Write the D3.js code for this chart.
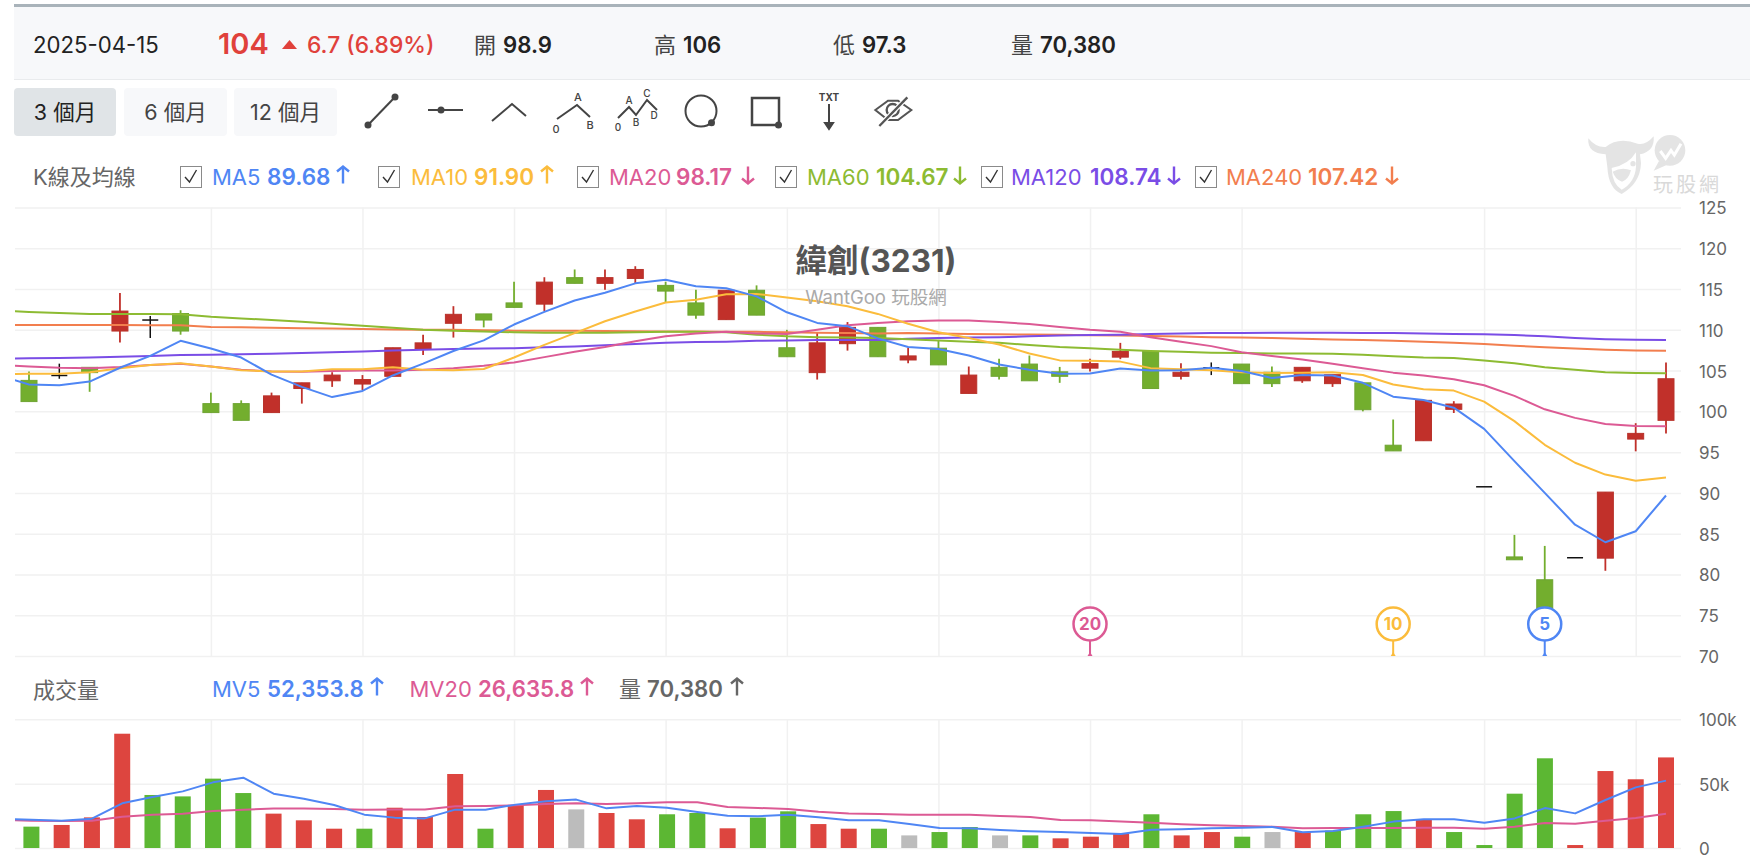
<!DOCTYPE html>
<html lang="zh-Hant">
<head>
<meta charset="utf-8">
<title>緯創(3231)</title>
<script src="https://cdn.jsdelivr.net/npm/d3@7/dist/d3.min.js"></script>
<style>
  html, body { margin: 0; padding: 0; background: #fff; overflow: hidden; }
  svg { display: block; }
  text { font-family: Inter, "Noto Sans CJK TC", sans-serif; }
  .tick text { font-family: Inter, sans-serif; }
</style>
</head>
<body>
<svg id="chart" width="1750" height="860"></svg>
<script>
// Daily quotes, oldest first
const opens = [103.8,104.4,105.4,109.85,111.2,112.0,100.95,100.95,99.85,102.8,103.75,103.35,104.3,107.65,110.8,111.95,113.3,113.15,116.4,115.7,116.3,115.45,113.3,111.25,114.85,107.8,104.75,108.3,110.3,106.3,107.75,102.2,105.4,105.8,104.85,105.3,106.65,107.35,104.3,105.35,105.8,104.8,103.75,103.4,103.5,95.85,96.4,100.25,90.75,82.15,79.35,82.05,82.0,96.6,98.9];
const highs = [104.9,105.85,105.4,114.5,111.7,112.4,102.3,101.35,102.3,103.5,104.8,104.45,107.8,109.4,112.9,111.95,115.9,116.45,117.4,117.4,117.8,115.9,114.9,114.85,115.45,110.0,109.7,110.95,110.3,107.8,108.7,105.5,106.45,106.85,105.45,106.45,108.4,107.35,105.9,106.0,105.8,105.5,105.4,104.5,103.5,99.0,101.35,101.25,90.75,84.85,83.5,82.05,90.1,98.55,106];
const lows = [101.2,104.0,102.4,108.45,109.0,109.4,99.85,98.9,99.85,100.95,103.0,102.6,104.3,106.9,109.05,110.3,112.75,112.3,115.7,114.9,115.65,113.35,111.35,111.25,111.8,106.7,103.9,107.45,106.7,105.9,105.7,102.2,103.9,103.75,103.5,104.9,106.4,102.8,103.9,104.45,103.4,103.0,103.5,103.0,100.0,95.15,96.4,99.8,90.75,81.8,75.7,82.05,80.45,95.1,97.3];
const closes = [101.2,104.4,104.75,112.3,111.2,109.85,99.85,98.9,101.9,103.5,104.45,103.9,107.8,108.4,111.9,111.2,112.75,115.85,115.7,116.4,117.4,114.75,111.8,114.85,111.8,106.7,108.4,110.3,106.7,106.8,105.7,104.45,104.3,103.75,104.3,105.85,107.35,102.8,104.8,105.35,103.4,103.4,105.4,104.5,100.2,95.15,101.35,100.9,90.75,81.8,75.7,82.05,90.1,97.3,104];

// Averages begin one session before the first visible candle and run off the left edge
const ma5 = [104.4,103.3,103.2,103.65,105.35,106.8,108.65,107.7,106.6,104.5,103.0,101.75,102.5,104.4,105.85,107.4,108.7,110.65,112.2,113.6,114.55,115.7,116.15,115.35,115.1,114.1,112.15,110.85,110.45,108.95,107.9,107.65,106.85,105.75,105.1,104.6,104.65,105.25,105.0,105.05,105.35,104.95,104.1,104.45,104.4,103.5,101.8,101.4,100.45,97.85,93.9,90.0,86.1,83.95,85.3,89.68];
const ma10 = [104.55,104.6,104.6,104.8,105.3,105.7,105.9,105.5,105.05,104.9,104.9,105.15,105.15,105.4,105.1,105.05,105.2,106.6,108.15,109.6,111.05,112.25,113.35,113.7,114.35,114.4,113.95,113.5,112.9,111.95,110.75,109.7,109.0,108.2,107.1,106.25,106.2,106.1,105.3,105.15,105.05,104.8,104.7,104.75,104.8,104.45,103.3,102.7,102.55,101.2,98.8,95.9,93.7,92.25,91.5,91.9];
const ma20 = [105.7,105.5,105.35,105.3,105.45,105.7,105.85,105.5,105.1,104.9,104.85,104.95,105.0,105.0,105.1,105.3,105.6,106.0,106.65,107.3,107.9,108.6,109.2,109.55,109.75,109.55,109.5,110.0,110.55,110.85,111.05,111.15,111.15,110.95,110.7,110.35,110.0,109.75,109.1,108.55,108.0,107.25,106.8,106.35,105.85,105.3,104.75,104.4,103.95,103.2,101.9,100.25,99.2,98.45,98.2,98.17];
const ma60 = [112.35,112.2,112.05,111.95,111.95,111.95,111.9,111.6,111.4,111.2,111.0,110.75,110.5,110.25,110.0,109.9,109.8,109.7,109.65,109.65,109.65,109.7,109.75,109.75,109.7,109.4,109.2,109.1,109.05,109.0,108.85,108.7,108.55,108.4,108.15,107.9,107.75,107.55,107.4,107.3,107.2,107.15,107.1,107.1,107.05,106.95,106.75,106.6,106.55,106.25,105.9,105.4,105.1,104.8,104.7,104.67];
const ma120 = [106.45,106.5,106.55,106.6,106.7,106.8,106.9,106.95,107.0,107.05,107.15,107.25,107.35,107.45,107.55,107.65,107.7,107.75,107.85,107.95,108.1,108.25,108.4,108.5,108.55,108.65,108.7,108.75,108.75,108.75,108.9,109.0,109.05,109.1,109.2,109.3,109.35,109.4,109.5,109.55,109.6,109.6,109.65,109.65,109.65,109.6,109.6,109.55,109.5,109.45,109.35,109.2,109.0,108.85,108.78,108.74];
const ma240 = [110.6,110.6,110.6,110.6,110.58,110.56,110.55,110.35,110.3,110.25,110.2,110.15,110.1,110.05,110.0,110.0,109.95,109.9,109.9,109.88,109.85,109.82,109.8,109.78,109.76,109.75,109.7,109.65,109.6,109.55,109.6,109.55,109.5,109.45,109.42,109.38,109.34,109.3,109.25,109.18,109.1,109.05,109.0,108.9,108.8,108.75,108.65,108.55,108.4,108.25,108.05,107.85,107.7,107.55,107.47,107.42];

// Traded volume and its averages, same session order
const volumes = [16600,17900,23800,88800,41200,40100,53900,42700,26700,21500,15000,15000,31300,24100,57500,15000,33200,45100,30000,27200,22300,26200,27200,15300,23600,28500,18600,15000,15000,9800,12400,16300,9800,9800,7500,8800,11100,26200,9800,12400,8800,12400,12400,13500,26200,28700,21800,12400,2300,42200,69700,2300,59800,53400,70380];
const volumeMoves = ["d","u","u","u","d","d","d","d","u","u","u","d","u","u","u","d","u","u","f","u","u","d","d","u","d","d","u","u","d","f","d","d","f","d","u","u","u","d","u","u","d","f","u","d","d","d","u","d","d","d","d","u","u","u","u"];
const mv5 = [22700,22000,21200,22800,34700,39600,44000,51000,54600,42200,38300,33400,25900,23600,23000,29800,29800,33700,36300,37600,30800,32600,31300,28000,25100,24600,25900,23800,21500,21500,18600,15500,15300,14000,13000,12400,11700,10900,14200,14500,15300,15800,16300,12200,13200,16600,20500,22300,22300,19700,23000,31000,26900,37300,47100,52353.8];
const mv20 = [21700,21200,21000,21200,24300,25900,26700,28700,29800,30600,30600,30300,29800,30000,30000,32400,32600,33200,34200,34700,34200,34700,35500,35500,31900,31100,30300,28200,26900,26400,25900,25900,25900,24900,24100,21800,21500,20500,19700,18400,17600,17100,16600,15300,15500,15500,15500,15800,15800,15000,16600,19400,18900,21200,23300,26635.8];

// Axis ticks and session gridlines
const priceTicks = [70,75,80,85,90,95,100,105,110,115,120,125];
const volumeTicks = [0,50000,100000];
const gridSessions = [6,11,16,21,25,30,35,40,48,53];

// Legend rows
const maNames = ["MA5","MA10","MA20","MA60","MA120","MA240"];
const maLabels = ["89.68","91.90","98.17","104.67","108.74","107.42"];
const maTrends = [1,1,-1,-1,-1,-1];
const mvNames = ["MV5","MV20","量"];
const mvLabels = ["52,353.8","26,635.8","70,380"];
const mvTrends = [1,1,1];

// Averages that the latest price crossed, with the session of each crossing
const crossPeriods = [20,10,5];
const crossSessions = [35,45,50];

const ink = {
  ma: ["#4f86f4","#fbbc3c","#dc5a94","#8dbb32","#7a4de6","#f27e4e"],
  up: "#c1302a", upEdge: "#b8322b", down: "#73ae2e", downEdge: "#6fa433", flat: "#111",
  volUp: "#dd453f", volDown: "#5cb733", volFlat: "#bcbcbc",
  grid: "#f1f1f1", axis: "#666", header: "#f7f8fa"
};

const svg = d3.select("#chart");

const x = d3.scaleLinear().domain([0, 54]).range([29, 1666]);
const xVol = d3.scaleLinear().domain([0, 54]).range([31.4, 1666]);
const y = d3.scaleLinear().domain([70, 125]).range([656, 207.5]);
const yVol = d3.scaleLinear().domain([0, 100000]).range([848, 719.3]);

// Plain text helper; y is the vertical centre of the line
function label(parent, px, py, str, o = {}) {
  return parent.append("text")
    .attr("x", px).attr("y", py).attr("dy", "0.36em")
    .attr("font-size", o.size || 21)
    .attr("font-weight", o.weight || 400)
    .attr("fill", o.fill || "#333")
    .attr("text-anchor", o.anchor || "start")
    .text(str);
}

// Little trend arrow used in the legends
function trendArrow(parent, cx, cy, dir, color) {
  const t = -dir * 8.5, h = -dir * 5;
  parent.append("path")
    .attr("d", `M${cx},${cy - t}L${cx},${cy + t}M${cx - 6},${cy + t - h}L${cx},${cy + t}L${cx + 6},${cy + t - h}`)
    .attr("fill", "none").attr("stroke", color).attr("stroke-width", 2.4);
}

/* ---------- header strip ---------- */
svg.append("rect").attr("x", 14).attr("y", 7).attr("width", 1736).attr("height", 72).attr("fill", ink.header);
svg.append("rect").attr("x", 14).attr("y", 4).attr("width", 1736).attr("height", 3).attr("fill", "#a9b3ba");
svg.append("rect").attr("x", 14).attr("y", 79).attr("width", 1736).attr("height", 1).attr("fill", "#e9ebed");

const head = svg.append("g");
label(head, 33, 45, "2025-04-15", { size: 22.2, fill: "#222" });
label(head, 218, 44, "104", { size: 29, weight: 600, fill: "#e0413b" });
head.append("path").attr("d", "M282,49L289.5,40L297,49Z").attr("fill", "#e0413b");
label(head, 307, 45, "6.7 (6.89%)", { size: 22.8, weight: 500, fill: "#e0413b" });
[["開", "98.9", 474], ["高", "106", 654], ["低", "97.3", 833], ["量", "70,380", 1011]].forEach(([k, v, px]) => {
  label(head, px, 45, k, { size: 22, fill: "#444" });
  label(head, px + 29, 45, v, { size: 22.2, weight: 600, fill: "#222" });
});

/* ---------- range buttons ---------- */
const ranges = [["3 個月", 14, 102, true], ["6 個月", 124, 103, false], ["12 個月", 234, 103, false]];
ranges.forEach(([t, px, w, on]) => {
  svg.append("rect").attr("x", px).attr("y", 88).attr("width", w).attr("height", 48).attr("rx", 4)
    .attr("fill", on ? "#e0e4e7" : ink.header);
  label(svg, px + w / 2, 112, t, { size: 21.5, anchor: "middle", fill: on ? "#222" : "#444" });
});

/* ---------- drawing tools ---------- */
const tools = svg.append("g").attr("fill", "none").attr("stroke", "#444").attr("stroke-width", 2);
const dot = (cx, cy, r = 3.5) => tools.append("circle").attr("cx", cx).attr("cy", cy).attr("r", r).attr("fill", "#444").attr("stroke", "none");
const small = (px, py, t, s = 11) => label(svg, px, py, t, { size: s, anchor: "middle", fill: "#444", weight: 500 });

tools.append("path").attr("d", "M368,125L395,97"); dot(368, 125); dot(395, 97);
tools.append("path").attr("d", "M428,110L463,110"); dot(441, 110);
tools.append("path").attr("d", "M492,121L512,104L526,116");
tools.append("path").attr("d", "M557,119L577,105L590,117");
small(556, 129, "0"); small(578, 97, "A"); small(590, 125, "B");
tools.append("path").attr("d", "M618,118L629,107L636,115L647,100L657,110");
small(618, 127, "0", 10); small(629, 100, "A", 10); small(636, 122, "B", 10); small(647, 93, "C", 10); small(654, 115, "D", 10);
tools.append("circle").attr("cx", 701).attr("cy", 111).attr("r", 15.5); dot(711.5, 122.7);
tools.append("rect").attr("x", 752).attr("y", 98).attr("width", 27).attr("height", 27).attr("stroke-width", 2.5); dot(778.5, 125);
small(829, 97, "TXT", 10).attr("font-weight", 700);
tools.append("path").attr("d", "M829,104L829,127");
tools.append("path").attr("d", "M825,123L829,129L833,123Z").attr("fill", "#444");

// Struck-through eye
const eye = svg.append("g").attr("transform", "translate(860,85) scale(0.3333)")
  .attr("fill", "none").attr("stroke", "#555");
eye.append("path").attr("d", "M46,75L84,47L114,47L154,75L114,105L84,105Z").attr("stroke-width", 6);
eye.append("circle").attr("cx", 98).attr("cy", 75).attr("r", 18).attr("stroke-width", 7);
eye.append("path").attr("d", "M58,123L142,37").attr("stroke", "#fff").attr("stroke-width", 14);
eye.append("path").attr("d", "M58,123L142,37").attr("stroke-width", 7);

/* ---------- brand mark ---------- */
const mark = svg.append("g").attr("transform", "translate(1575,125) scale(0.3333)").attr("fill", "#e4e4e4");
mark.append("path").attr("d", "M40,40Q62,68 92,66Q130,35 188,56Q212,62 236,34Q240,80 195,88L198,115Q196,175 140,207Q100,190 97,125L92,88Q36,85 40,40Z");
mark.append("path").attr("d", "M112,128Q160,120 183,82L183,125Q180,172 140,194Q112,178 110,130Z").attr("fill", "#fff");
mark.append("path").attr("d", "M113,140Q140,125 168,136Q160,165 141,170Q122,165 113,140Z");
mark.append("circle").attr("cx", 174).attr("cy", 116).attr("r", 8);
mark.append("circle").attr("cx", 285).attr("cy", 76).attr("r", 46);
mark.append("path").attr("d", "M252,108L236,137L275,120Z");
mark.append("path").attr("d", "M256,78L272,100L288,76L298,90L318,56").attr("fill", "none").attr("stroke", "#fff").attr("stroke-width", 9);
label(svg, 1653, 185, "玩股網", { size: 20, fill: "#d9d9d9" }).attr("letter-spacing", 3);

/* ---------- price legend ---------- */
label(svg, 33, 177, "K線及均線", { size: 22, fill: "#666" });
const legendSlots = [
  { box: 180, name: 212, value: 267, arrow: 343 },
  { box: 378, name: 411, value: 474, arrow: 547 },
  { box: 577, name: 609, value: 676, arrow: 748 },
  { box: 775, name: 807, value: 876, arrow: 960 },
  { box: 981, name: 1011, value: 1090, arrow: 1174 },
  { box: 1195, name: 1226, value: 1308, arrow: 1392 }
];
maNames.forEach((name, i) => {
  const s = legendSlots[i], c = ink.ma[i];
  svg.append("rect").attr("x", s.box + 0.5).attr("y", 166.5).attr("width", 21).attr("height", 21)
    .attr("fill", "#fff").attr("stroke", "#8a8a8a");
  svg.append("path").attr("d", `M${s.box + 5},${177}L${s.box + 9.5},${182}L${s.box + 16.5},${170}`)
    .attr("fill", "none").attr("stroke", "#333").attr("stroke-width", 1.4);
  label(svg, s.name, 177, name, { size: 22, fill: c });
  label(svg, s.value, 177, maLabels[i], { size: 22.5, weight: 600, fill: c });
  trendArrow(svg, s.arrow, 175, maTrends[i], c);
});

/* ---------- price panel ---------- */
const left = 15, right = 1681;
svg.append("clipPath").attr("id", "plot").append("rect")
  .attr("x", left).attr("y", 200).attr("width", right - left).attr("height", 660);

function dressAxis(g) {
  g.select(".domain").remove();
  g.selectAll(".tick line").attr("stroke", ink.grid).attr("stroke-width", 1.5);
  g.selectAll(".tick text").attr("fill", ink.axis).attr("font-size", 17).attr("dy", "0.38em");
}

svg.append("g").attr("transform", `translate(${right},0)`)
  .call(d3.axisRight(y).tickValues(priceTicks).tickSize(-(right - left)).tickPadding(18).tickFormat(d3.format("d")))
  .call(dressAxis);
svg.append("g").attr("transform", "translate(0,656)")
  .call(d3.axisBottom(x).tickValues(gridSessions).tickSize(-448.5).tickFormat(""))
  .call(dressAxis);

const candles = closes.map((c, i) => ({ i, o: opens[i], h: highs[i], l: lows[i], c }));
const tone = d => d.c > d.o ? "up" : d.c < d.o ? "down" : "flat";
const candleG = svg.append("g");
const bodyW = 16;

candleG.selectAll("line.wick").data(candles).join("line").attr("class", "wick")
  .attr("x1", d => x(d.i)).attr("x2", d => x(d.i))
  .attr("y1", d => y(d.h)).attr("y2", d => y(d.l))
  .attr("stroke", d => ink[tone(d)]).attr("stroke-width", d => tone(d) === "flat" ? 1.5 : 1.8);

candleG.selectAll("rect.body").data(candles.filter(d => d.c !== d.o)).join("rect").attr("class", "body")
  .attr("x", d => x(d.i) - bodyW / 2).attr("width", bodyW)
  .attr("y", d => y(Math.max(d.o, d.c)))
  .attr("height", d => Math.abs(y(d.o) - y(d.c)))
  .attr("fill", d => ink[tone(d)])
  .attr("stroke", d => tone(d) === "up" ? ink.upEdge : ink.downEdge).attr("stroke-width", 1);

candleG.selectAll("line.doji").data(candles.filter(d => d.c === d.o)).join("line").attr("class", "doji")
  .attr("x1", d => x(d.i) - 8).attr("x2", d => x(d.i) + 8)
  .attr("y1", d => y(d.c)).attr("y2", d => y(d.c))
  .attr("stroke", ink.flat).attr("stroke-width", 1.5);

// Moving averages, drawn from the session before the first candle
const priceLine = d3.line().x((v, k) => x(k - 1)).y(v => y(v));
[ma240, ma120, ma60, ma20, ma10, ma5].forEach((series, idx) => {
  svg.append("path").datum(series).attr("clip-path", "url(#plot)")
    .attr("d", priceLine).attr("fill", "none")
    .attr("stroke", ink.ma[5 - idx]).attr("stroke-width", 2).attr("stroke-linejoin", "round");
});

// Crossing badges sit on the bottom edge of the panel
const badgeColor = { 5: ink.ma[0], 10: ink.ma[1], 20: ink.ma[2] };
crossPeriods.forEach((p, k) => {
  const cx = x(crossSessions[k]), c = badgeColor[p], cy = y(70) - 32;
  svg.append("path").attr("d", `M${cx},${cy + 16}L${cx},${y(70) - 2}`).attr("stroke", c).attr("stroke-width", 2);
  svg.append("path").attr("d", `M${cx - 2.5},${y(70)}L${cx},${y(70) - 4}L${cx + 2.5},${y(70)}Z`).attr("fill", c);
  svg.append("circle").attr("cx", cx).attr("cy", cy).attr("r", 16.5)
    .attr("fill", "#fff").attr("stroke", c).attr("stroke-width", 2.5);
  label(svg, cx, cy, p, { size: 17, weight: 700, fill: c, anchor: "middle" });
});

// Stock name over the panel
label(svg, 876, 261, "緯創(3231)", { size: 31.5, weight: 700, fill: "#555", anchor: "middle" });
label(svg, 876, 297, "WantGoo 玩股網", { size: 18.5, fill: "#aaa", anchor: "middle" });

/* ---------- volume panel ---------- */
label(svg, 33, 690, "成交量", { size: 22, fill: "#666" });
const mvColors = [ink.ma[0], ink.ma[2], "#666"];
const mvSlots = [
  { name: 212, value: 267, arrow: 377 },
  { name: 409.5, value: 478, arrow: 587 },
  { name: 619, value: 647, arrow: 737 }
];
mvNames.forEach((name, i) => {
  const s = mvSlots[i], c = mvColors[i];
  label(svg, s.name, 689, name, { size: 22, fill: c });
  label(svg, s.value, 689, mvLabels[i], { size: 22.2, weight: 600, fill: c });
  trendArrow(svg, s.arrow, 687, mvTrends[i], c);
});

svg.append("g").attr("transform", `translate(${right},0)`)
  .call(d3.axisRight(yVol).tickValues(volumeTicks).tickSize(-(right - left)).tickPadding(18)
    .tickFormat(v => v === 0 ? "0" : `${v / 1000}k`))
  .call(dressAxis);
svg.append("g").attr("transform", "translate(0,848)")
  .call(d3.axisBottom(x).tickValues(gridSessions).tickSize(-128.7).tickFormat(""))
  .call(dressAxis);

const volColor = { u: ink.volUp, d: ink.volDown, f: ink.volFlat };
svg.append("g").selectAll("rect").data(volumes).join("rect")
  .attr("x", (v, i) => xVol(i) - 8).attr("width", 16)
  .attr("y", v => yVol(v)).attr("height", v => yVol(0) - yVol(v))
  .attr("fill", (v, i) => volColor[volumeMoves[i]]);

const volLine = d3.line().x((v, k) => xVol(k - 1)).y(v => yVol(v));
[[mv20, ink.ma[2]], [mv5, ink.ma[0]]].forEach(([series, c]) => {
  svg.append("path").datum(series).attr("clip-path", "url(#plot)")
    .attr("d", volLine).attr("fill", "none").attr("stroke", c).attr("stroke-width", 2).attr("stroke-linejoin", "round");
});
</script>
</body>
</html>
